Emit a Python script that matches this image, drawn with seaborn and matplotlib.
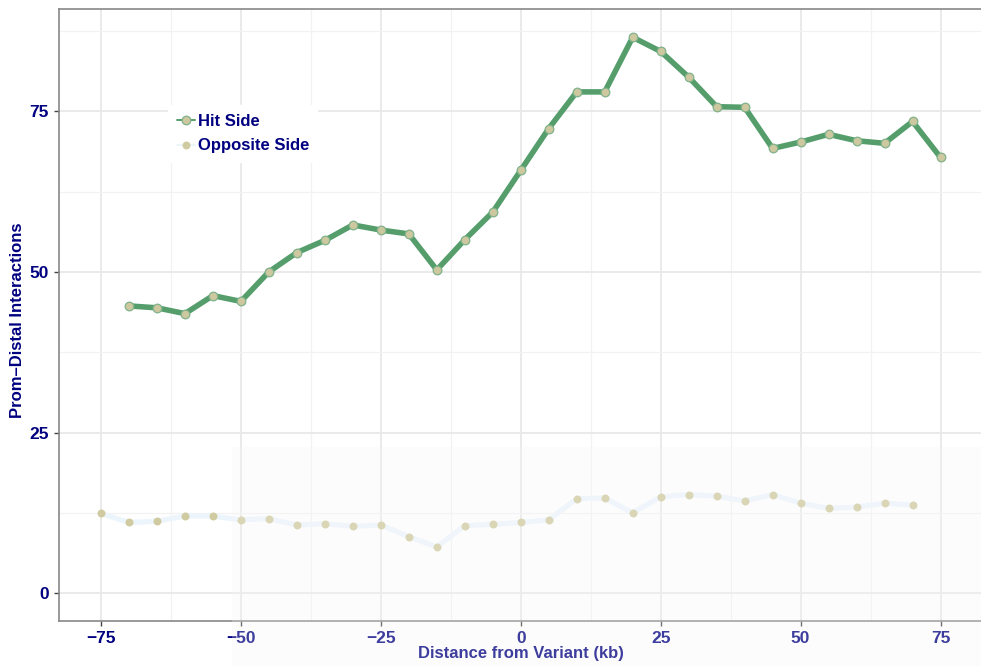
import numpy as np
import pandas as pd
import matplotlib
matplotlib.use("Agg")
import matplotlib.pyplot as plt
from matplotlib.patches import Rectangle
from matplotlib.ticker import MultipleLocator
import seaborn as sns

# Distance from the variant (kb) for each series
hit_dist = [-70, -65, -60, -55, -50, -45, -40, -35, -30, -25, -20, -15, -10, -5, 0,
            5, 10, 15, 20, 25, 30, 35, 40, 45, 50, 55, 60, 65, 70, 75]
opp_dist = [-75, -70, -65, -60, -55, -50, -45, -40, -35, -30, -25, -20, -15, -10, -5,
            0, 5, 10, 15, 20, 25, 30, 35, 40, 45, 50, 55, 60, 65, 70]

# Promoter-distal interaction counts
hit_vals = [44.7, 44.4, 43.5, 46.3, 45.4, 50.0, 53.0, 54.9, 57.3, 56.5, 55.9, 50.3, 55.0, 59.3, 65.8,
            72.3, 78.0, 78.0, 86.5, 84.3, 80.3, 75.7, 75.6, 69.2, 70.2, 71.4, 70.4, 70.0, 73.4, 67.8]
opp_vals = [12.4, 11.0, 11.2, 12.0, 12.0, 11.4, 11.6, 10.6, 10.8, 10.4, 10.6, 8.8, 7.2, 10.5, 10.7,
            11.0, 11.4, 14.7, 14.8, 12.5, 15.0, 15.35, 15.1, 14.35, 15.35, 14.0, 13.2, 13.4, 14.0, 13.7]

series_names = ["Hit Side", "Opposite Side"]
x_ticks = [-75, -50, -25, 0, 25, 50, 75]
y_ticks = [0, 25, 50, 75]

hit_df = pd.DataFrame({"dist": hit_dist, "count": hit_vals})
opp_df = pd.DataFrame({"dist": opp_dist, "count": opp_vals})

sns.set_theme(style="white")
plt.rcParams["font.family"] = ["Liberation Sans", "DejaVu Sans"]
plt.rcParams["font.weight"] = "bold"

NAVY = "#000080"
fig = plt.figure(figsize=(9.81, 6.66), dpi=100)
ax = fig.add_axes([59 / 981, 1 - 621 / 666, 923.5 / 981, 612 / 666])

sns.lineplot(data=opp_df, x="dist", y="count", ax=ax, color="#edf5fc", linewidth=3.8,
             marker="o", markersize=5.2, markerfacecolor="#cfcaa0",
             markeredgecolor="#cfcaa0", markeredgewidth=0.5, label=series_names[1], zorder=3)
sns.lineplot(data=hit_df, x="dist", y="count", ax=ax, color="#559e6c", linewidth=4.0,
             marker="o", markersize=6.2, markerfacecolor="#cdc89f",
             markeredgecolor="#7fb28a", markeredgewidth=0.9, label=series_names[0], zorder=4)

ax.set_xlim(-82.5, 82.5)
ax.set_ylim(-4.33, 90.9)
ax.set_xticks(x_ticks)
ax.set_yticks(y_ticks)
ax.set_xticklabels([str(t).replace("-", "\u2212") for t in x_ticks])
ax.xaxis.set_minor_locator(MultipleLocator(12.5))
ax.yaxis.set_minor_locator(MultipleLocator(12.5))
ax.grid(which="major", color="#e8e8e8", linewidth=1.3, zorder=0)
ax.grid(which="minor", color="#f2f2f2", linewidth=0.9, zorder=0)
ax.set_axisbelow(True)

for side in ["left", "bottom", "top", "right"]:
    ax.spines[side].set_color("#888888")
    ax.spines[side].set_linewidth(1.2)

ax.tick_params(axis="both", which="major", direction="out", length=3.5, width=1.0,
               color="#444444", labelsize=12.5, labelcolor=NAVY, pad=4,
               left=True, bottom=True)
ax.tick_params(axis="both", which="minor", length=0)
for lab in ax.get_xticklabels() + ax.get_yticklabels():
    lab.set_fontweight("bold")

ax.set_xlabel("Distance from Variant (kb)", fontsize=12, fontweight="bold", color=NAVY)
ax.xaxis.set_label_coords(0.5, -(646 - 621) / 612)
ax.set_ylabel("Prom\u2013Distal Interactions", fontsize=12, fontweight="bold", color=NAVY)
ax.yaxis.set_label_coords(-(59 - 25) / 923.5, (621 - 320) / 612)

handles, labels = ax.get_legend_handles_labels()
order = [labels.index(n) for n in series_names]
leg = ax.legend([handles[i] for i in order], [labels[i] for i in order],
                loc="upper left", bbox_to_anchor=(160 / 981, 1 - 97 / 666),
                bbox_transform=fig.transFigure, frameon=True, fancybox=False,
                framealpha=1.0, edgecolor="white", facecolor="white",
                handlelength=1.1, handletextpad=0.15, labelspacing=0.58,
                borderpad=0.5, prop={"size": 12, "weight": "bold"})
for t in leg.get_texts():
    t.set_color(NAVY)
for h in leg.legend_handles:
    h.set_linewidth(1.4)

# faint haze over the lower right of the figure
fig.patches.append(Rectangle((232 / 981, 0), 1 - 232 / 981, 1 - 447 / 666,
                             transform=fig.transFigure, facecolor="#f7f7f7",
                             edgecolor="none", alpha=0.25, zorder=10))

fig.savefig("out.png", dpi=100, facecolor="white")
